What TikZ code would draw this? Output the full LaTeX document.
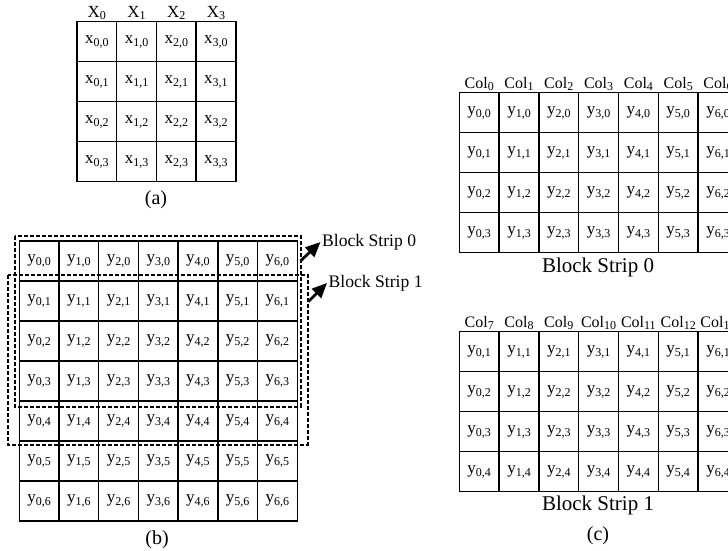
\documentclass[tikz,border=0pt]{standalone}
\usepackage{fontspec}
\setmainfont{Liberation Serif}
\usetikzlibrary{arrows.meta}
% lowered index written as plain text
\newcommand\idx[1]{\raisebox{-0.35ex}{\fontsize{12}{12}\selectfont #1}}
\tikzset{
  cell/.style={draw=black, line width=1.4pt, minimum width=39.7pt, minimum height=40pt,
               inner sep=0pt, font=\fontsize{17}{17}\selectfont},
  colhead/.style={inner sep=0pt, font=\fontsize{16}{16}\selectfont},
  xhead/.style={inner sep=0pt, font=\fontsize{17}{17}\selectfont},
  caption/.style={inner sep=1.5pt, font=\fontsize{20}{20}\selectfont},
  striplabel/.style={inner sep=1.5pt, font=\fontsize{17.6}{18}\selectfont},
  strip/.style={line width=2pt, dash pattern=on 4pt off 2pt},
  bigarrow/.style={line width=2.8pt, -{Triangle[length=15pt,width=13pt]}},
}
\begin{document}
\begin{tikzpicture}[x=1pt,y=-1pt]
\useasboundingbox (0,0) rectangle (728,551);
\clip (0,0) rectangle (728,551);

% (a) input matrix x
\foreach \i in {0,...,3}{
  \node[xhead] (ah\i) at (77+39.7*\i+19.85, 13) {X\idx{\i}};
  \foreach \j in {0,...,3}
    \node[cell] (a-\i-\j) at (77+39.7*\i+19.85, 21.7+40*\j+20) {x\idx{\i,\j}};
}
\node[caption] (capa) at (156,200) {(a)};

% (b) output matrix y
\foreach \i in {0,...,6}{
  \foreach \j in {0,...,6}
    \node[cell] (b-\i-\j) at (19.3+39.7*\i+19.85, 241+40*\j+20) {y\idx{\i,\j}};
}
\node[caption] (capb) at (157,540) {(b)};

% block strips around rows 0-3 and rows 1-4
\draw[strip] (15,235.7) rectangle (300.7,406.7);
\draw[strip] (8.3,275) rectangle (307.7,445);
\coordinate (s0) at (300.5,261);
\coordinate (s1) at (308.3,301.7);
\node[striplabel, anchor=west] (lab0) at (320.5,242) {Block Strip 0};
\node[striplabel, anchor=west] (lab1) at (327,283) {Block Strip 1};
\draw[bigarrow] (s0) -- (lab0.west);
\draw[bigarrow] (s1) -- (lab1.west);

% (c) block strip 0 laid out by columns
\foreach \i in {0,...,6}{
  \node[colhead] (c0h\i) at (459.3+39.8*\i+19.9, 84) {Col\idx{\i}};
  \foreach \j in {0,...,3}
    \node[cell, minimum width=39.8pt] (c0-\i-\j) at (459.3+39.8*\i+19.9, 92.7+40*\j+20) {y\idx{\i,\j}};
}
\node[caption, font=\fontsize{21}{21}\selectfont] (cap0) at (598,267) {Block Strip 0};

% (c) block strip 1 laid out by columns
\foreach \i in {0,...,6}{
  \pgfmathtruncatemacro\k{\i+7}
  \node[colhead] (c1h\i) at (459.3+39.8*\i+19.9, 323) {Col\idx{\k}};
  \foreach \j in {1,...,4}
    \node[cell, minimum width=39.8pt] (c1-\i-\j) at (459.3+39.8*\i+19.9, 311.7+40*\j) {y\idx{\i,\j}};
}
\node[caption, font=\fontsize{21}{21}\selectfont] (cap1) at (598,505) {Block Strip 1};
\node[caption] (capc) at (598,536) {(c)};
\end{tikzpicture}
\end{document}
